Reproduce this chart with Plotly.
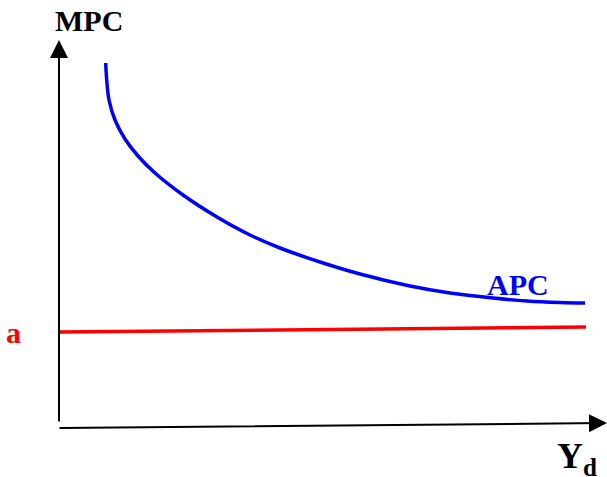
import plotly.graph_objects as go

# Disposable income (Yd) vs propensity to consume
apc_yd = [46.7, 47.7, 50, 56, 66, 79, 96, 124, 158, 191, 221, 261, 301, 351, 391, 434, 468, 501, 526]
apc_val = [365, 348, 328, 308, 289, 272, 255, 233, 211, 193, 180, 166, 154, 142, 135, 130, 127, 125.5, 125]
mpc_yd = [0, 527]
mpc_val = [96, 101]

FONT = "Liberation Serif, Times New Roman, serif"

fig = go.Figure()
fig.add_trace(go.Scatter(x=apc_yd, y=apc_val, mode="lines",
                         line=dict(color="#0000ff", width=3.5, shape="spline", smoothing=1.0),
                         showlegend=False, hoverinfo="skip"))
fig.add_trace(go.Scatter(x=mpc_yd, y=mpc_val, mode="lines",
                         line=dict(color="#ff0000", width=3.5),
                         showlegend=False, hoverinfo="skip"))

annotations = [
    # y axis arrow
    dict(x=0, y=388, ax=0, ay=5, xref="x", yref="y", axref="x", ayref="y",
         showarrow=True, arrowhead=2, arrowsize=1.8, arrowwidth=2, arrowcolor="black", text=""),
    # x axis arrow
    dict(x=548, y=5, ax=-1, ay=0, xref="x", yref="y", axref="x", ayref="y",
         showarrow=True, arrowhead=2, arrowsize=1.8, arrowwidth=2, arrowcolor="black", text=""),
    dict(x=30, y=408, xref="x", yref="y", text="<b>MPC</b>", showarrow=False,
         font=dict(family=FONT, size=30, color="black")),
    dict(x=459, y=144, xref="x", yref="y", text="<b>APC</b>", showarrow=False,
         font=dict(family=FONT, size=30, color="#0000ff")),
    dict(x=-46, y=96, xref="x", yref="y", text="<b>a</b>", showarrow=False,
         font=dict(family=FONT, size=30, color="#ff0000")),
    dict(x=540, y=-30, xref="x", yref="y", xanchor="right", text="<b>Y<sub>d</sub></b>", showarrow=False,
         font=dict(family=FONT, size=36, color="black")),
]

fig.update_layout(
    width=607, height=477,
    margin=dict(l=0, r=0, t=0, b=0),
    paper_bgcolor="white", plot_bgcolor="white",
    xaxis=dict(range=[-59, 548], visible=False, fixedrange=True),
    yaxis=dict(range=[-49, 428], visible=False, fixedrange=True),
    annotations=annotations,
    showlegend=False,
)

fig.write_html("out.html", config={"displayModeBar": False},
               post_script="document.body.style.margin='0';document.body.style.overflow='hidden';")
